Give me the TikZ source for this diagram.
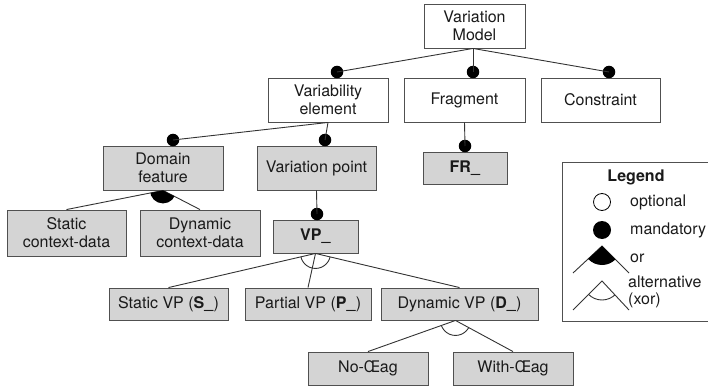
\documentclass[tikz,border=0pt]{standalone}
\usepackage{fontspec}
\setmainfont{TeX Gyre Heros}
\usetikzlibrary{calc}
\definecolor{boxline}{HTML}{505050}
\definecolor{linecol}{HTML}{333333}
\definecolor{boxfill}{HTML}{D4D4D4}
\definecolor{ink}{HTML}{1A1A1A}
\begin{document}
\begin{tikzpicture}[x=1pt,y=-1pt,
  feat/.style={draw=boxline, line width=0.9pt, inner sep=2pt, align=center,
    text=ink, font=\fontsize{16}{18}\selectfont},
  plainbox/.style={feat, fill=white},
  greybox/.style={feat, fill=boxfill},
  link/.style={draw=linecol, line width=0.9pt},
  mdot/.style={circle, fill=black, inner sep=0pt, minimum size=12.5pt},
  legtext/.style={anchor=west, inner sep=0pt, text=ink, align=left,
    font=\fontsize{16}{17}\selectfont}]
\useasboundingbox (0,0) rectangle (708,387);

% feature boxes
\node[plainbox, minimum width=101pt, minimum height=44pt] (vm) at (474.5,26) {Variation\\Model};
\node[plainbox, minimum width=120pt, minimum height=44pt] (ve) at (328,100) {Variability\\element};
\node[plainbox, minimum width=121pt, minimum height=44pt] (fr) at (464.5,100) {Fragment};
\node[plainbox, minimum width=119pt, minimum height=44pt] (co) at (600.5,100) {Constraint};
\node[greybox, minimum width=120pt, minimum height=44pt] (df) at (163,168) {Domain\\feature};
\node[greybox, minimum width=119pt, minimum height=44pt] (vpt) at (316.5,168) {Variation point};
\node[greybox, minimum width=84pt, minimum height=32pt] (fru) at (465,168) {\textbf{FR\_}};
\node[greybox, minimum width=119pt, minimum height=46pt] (sc) at (66.5,233) {Static\\context-data};
\node[greybox, minimum width=120pt, minimum height=46pt] (dc) at (200,233) {Dynamic\\context-data};
\node[greybox, minimum width=85pt, minimum height=33pt] (vpu) at (315.5,236.5) {\textbf{VP\_}};
\node[greybox, minimum width=119pt, minimum height=32pt] (svp) at (168.5,304) {Static VP (\textbf{S\_})};
\node[greybox, minimum width=126pt, minimum height=32pt] (pvp) at (308,304) {Partial VP (\textbf{P\_})};
\node[greybox, minimum width=157pt, minimum height=32pt] (dvp) at (459.5,304) {Dynamic VP (\textbf{D\_})};
\node[greybox, minimum width=120pt, minimum height=33pt] (nf) at (368,368.5) {No-Œag};
\node[greybox, minimum width=120pt, minimum height=33pt] (wf) at (513,368.5) {With-Œag};

% mandatory dots on top of the children
\node[mdot] (dotve) at (337,72) {};
\node[mdot] (dotfr) at (473,72) {};
\node[mdot] (dotco) at (609,72) {};
\node[mdot] (dotdf) at (173,140) {};
\node[mdot] (dotvpt) at (325,140) {};
\node[mdot] (dotfru) at (465,146) {};
\node[mdot] (dotvpu) at (317,214) {};

% mandatory links
\coordinate (vmb) at ($(vm.south)+(-1.5,0)$);
\draw[link] (vmb) -- (dotve.center);
\draw[link] (vmb) -- (dotfr.center);
\draw[link] (vmb) -- (dotco.center);
\draw[link] (ve.south) -- (dotdf.center);
\draw[link] (ve.south) -- (dotvpt.center);
\draw[link] (fr.south) -- (dotfru.center);
\draw[link] (vpt.south) -- (dotvpu.center);

% or-group under Domain feature
\draw[link] (df.south) -- (sc.north);
\draw[link] (df.south) -- (dc.north);
\begin{scope}
  \clip (df.south) -- (sc.north) -- (dc.north) -- cycle;
  \fill[black] (df.south) circle (13);
\end{scope}

% alternative group under VP_
\draw[link] (vpu.south) -- (svp.north);
\draw[link] (vpu.south) -- (pvp.north);
\draw[link] (vpu.south) -- (dvp.north);
\begin{scope}
  \clip (vpu.south) -- (svp.north) -- (dvp.north) -- cycle;
  \draw[link] (vpu.south) circle (15);
\end{scope}

% alternative group under Dynamic VP
\coordinate (dva) at ($(dvp.south)+(-4,0)$);
\draw[link] (dva) -- (nf.north);
\draw[link] (dva) -- (wf.north);
\begin{scope}
  \clip (dva) -- (nf.north) -- (wf.north) -- cycle;
  \draw[link] (dva) circle (15);
\end{scope}

% legend
\node[draw=boxline, line width=0.9pt, fill=white, minimum width=153pt, minimum height=159pt,
  inner sep=0pt] (legend) at (638.5,241.5) {};
\node[inner sep=0pt, text=ink, font=\fontsize{16}{17}\selectfont\bfseries] (legtitle) at (636,177) {Legend};
\node[circle, draw=black, line width=0.8pt, fill=white, inner sep=0pt, minimum size=17pt] (lopt) at (602,202) {};
\node[legtext] (topt) at (630,202) {optional};
\node[circle, fill=black, inner sep=0pt, minimum size=18pt] (lman) at (602,230) {};
\node[legtext] (tman) at (630,230) {mandatory};
\coordinate (orapex) at (602,246);
\coordinate (orleft) at (573,273);
\coordinate (orright) at (629,273);
\draw[link] (orleft) -- (orapex) -- (orright);
\begin{scope}
  \clip (orapex) -- (orleft) -- (orright) -- cycle;
  \fill[black] (orapex) circle (19);
\end{scope}
\node[legtext] (tor) at (630,258) {or};
\coordinate (xapex) at (602,281);
\coordinate (xleft) at (573,310);
\coordinate (xright) at (629,310);
\draw[link] (xleft) -- (xapex) -- (xright);
\begin{scope}
  \clip (xapex) -- (xleft) -- (xright) -- cycle;
  \draw[link] (xapex) circle (19);
\end{scope}
\node[legtext] (txor) at (628,292) {alternative\\(xor)};
\end{tikzpicture}
\end{document}
